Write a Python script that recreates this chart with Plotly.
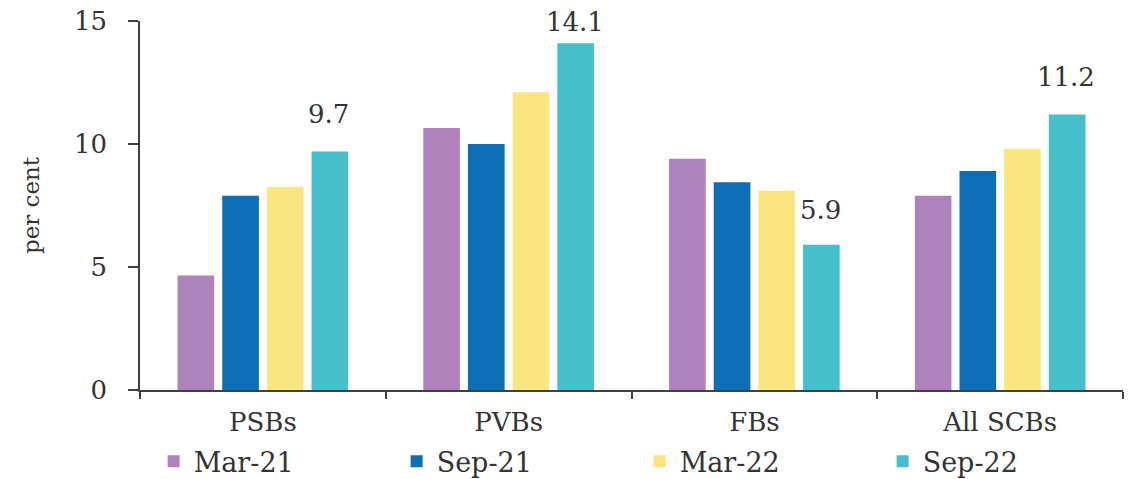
import plotly.graph_objects as go

categories = ["PSBs", "PVBs", "FBs", "All SCBs"]
series_names = ["Mar-21", "Sep-21", "Mar-22", "Sep-22"]
mar21 = [4.65, 10.65, 9.4, 7.9]
sep21 = [7.9, 10.0, 8.45, 8.9]
mar22 = [8.25, 12.1, 8.1, 9.8]
sep22 = [9.7, 14.1, 5.9, 11.2]
y_ticks = [0, 5, 10, 15]

colors = ["#AE83BC", "#0C6FB5", "#FBE57E", "#46BFCD"]
FONT = "DejaVu Serif"
TXT = "#333333"
AX = "#404040"

fig = go.Figure()
for name, vals, col in zip(series_names, [mar21, sep21, mar22, sep22], colors):
    fig.add_trace(go.Bar(name=name, x=categories, y=vals, marker_color=col,
                         marker_line_width=0))

# data labels for the last series
yshifts = [20, 4, 18, 20]
for c, v, ys in zip(categories, sep22, yshifts):
    fig.add_annotation(x=c, y=v, text=f"{v:.1f}", showarrow=False,
                       xref="x", yref="y", xshift=66, yshift=ys, yanchor="bottom",
                       font=dict(family=FONT, size=26, color=TXT))

fig.update_layout(
    width=1138, height=479,
    margin=dict(l=140, r=15, t=21, b=89, autoexpand=False),
    paper_bgcolor="white", plot_bgcolor="white",
    barmode="group", bargap=0.273, bargroupgap=0.18,
    font=dict(family=FONT, color=TXT, size=26),
    showlegend=True,
    legend=dict(orientation="h", xref="container", x=0.135, xanchor="left",
                yref="container", y=0.036, yanchor="middle",
                entrywidth=198, entrywidthmode="pixels",
                font=dict(family=FONT, size=27, color=TXT),
                traceorder="normal", itemwidth=30, bgcolor="rgba(0,0,0,0)"),
)
fig.update_xaxes(showline=True, linecolor=AX, linewidth=1.5, ticks="outside",
                 tickson="boundaries", ticklen=7, tickcolor=AX, tickwidth=1.5,
                 showgrid=False, tickfont=dict(family=FONT, size=26, color=TXT),
                 ticklabelstandoff=8)
fig.update_yaxes(range=[0, 15], tickvals=y_ticks, showline=True, linecolor=AX,
                 linewidth=1.5, ticks="outside", ticklen=10, tickcolor=AX, tickwidth=1.5,
                 showgrid=False, zeroline=False,
                 tickfont=dict(family=FONT, size=26, color=TXT), ticklabelstandoff=16,
                 title=dict(text="per cent", font=dict(family=FONT, size=23, color=TXT),
                            standoff=28))

fig.write_html("out.html")
